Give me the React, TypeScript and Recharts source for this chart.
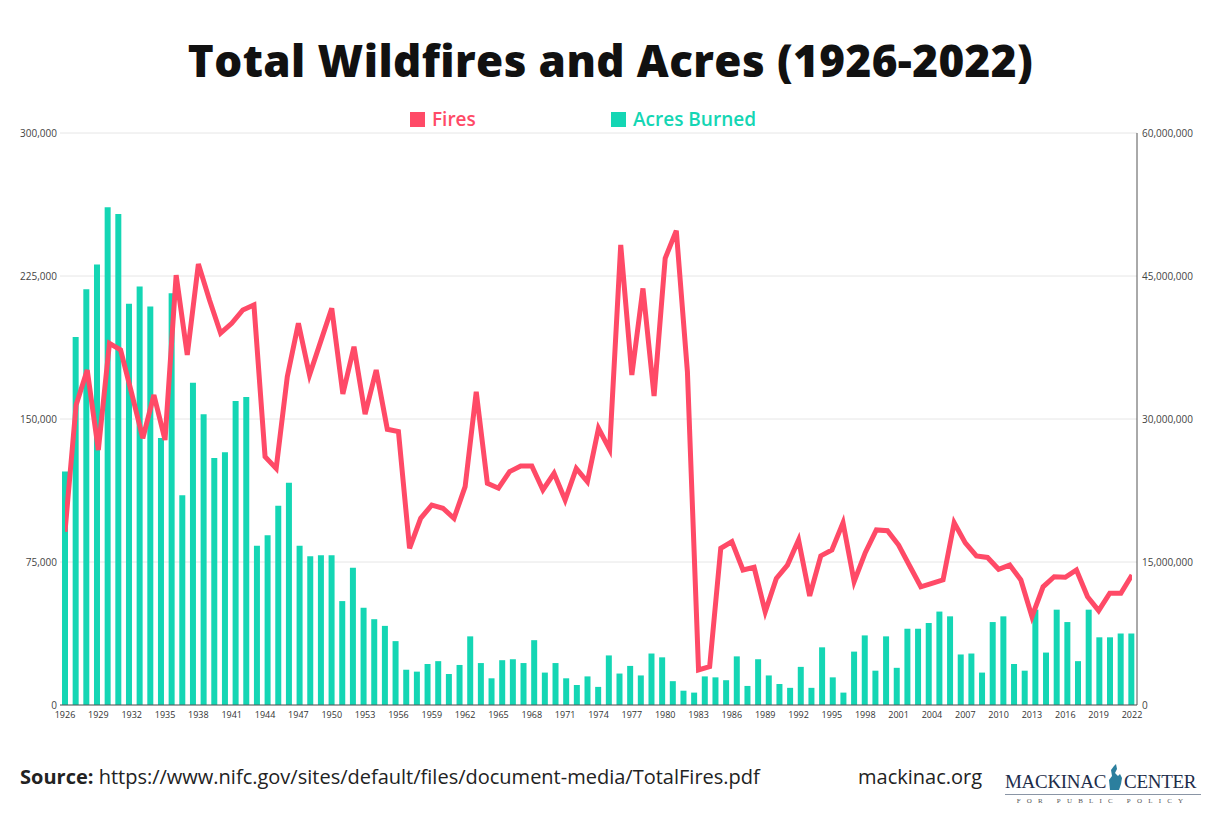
import React from "react";
import { ComposedChart, Bar, Line, XAxis, YAxis, CartesianGrid } from "recharts";

// fires per year (line)
const fireYears = [
  1926, 1927, 1928, 1929, 1930, 1931, 1932, 1933, 1934, 1935, 1936, 1937, 1938,
  1939, 1940, 1941, 1942, 1943, 1944, 1945, 1946, 1947, 1948, 1949, 1950, 1951,
  1952, 1953, 1954, 1955, 1956, 1957, 1958, 1959, 1960, 1961, 1962, 1963, 1964,
  1965, 1966, 1967, 1968, 1969, 1970, 1971, 1972, 1973, 1974, 1975, 1976, 1977,
  1978, 1979, 1980, 1981, 1982, 1983, 1984, 1985, 1986, 1987, 1988, 1989, 1990,
  1991, 1992, 1993, 1994, 1995, 1996, 1997, 1998, 1999, 2000, 2001, 2002, 2003,
  2004, 2005, 2006, 2007, 2008, 2009, 2010, 2011, 2012, 2013, 2014, 2015, 2016,
  2017, 2018, 2019, 2020, 2021, 2022,
];

const fires = [
  90900, 157400, 175700, 133700, 189700, 186200, 163500, 139900, 162600, 139000,
  225500, 183600, 231300, 212400, 195000, 200200, 207200, 209800, 130200, 124100,
  172200, 200200, 173100, 190600, 208100, 163100, 187900, 152600, 175700, 144600,
  143400, 82200, 97900, 104900, 103200, 97900, 114500, 164300, 116300, 113700,
  122400, 125400, 125400, 112800, 121500, 107500, 124100, 117100, 145100, 134100,
  241300, 173100, 218500, 162100, 234300, 248800, 174800, 18400, 20100, 82200,
  85700, 70800, 72200, 48900, 66400, 73400, 86500, 57200, 78200, 81300,
  95600, 64700, 79900, 91800, 91400, 83900, 72900, 62000, 63800, 65600,
  95600, 85000, 78200, 77400, 71200, 73400, 65600, 46300, 62000, 67300,
  67000, 70800, 56800, 49500, 58600, 58600, 68200,
];

// acres burned, bar by bar as drawn in the source (it has 101 bars)
const acresBurned = [
  24500000, 38600000, 43600000, 46200000, 52200000, 51500000, 42100000, 43900000,
  41800000, 28000000, 43200000, 22000000, 33800000, 30500000, 25900000, 26500000,
  31900000, 32300000, 16700000, 17800000, 20900000, 23300000, 16700000, 15600000,
  15700000, 15700000, 10900000, 14400000, 10200000, 9000000, 8300000, 6700000,
  3700000, 3500000, 4300000, 4600000, 3250000, 4200000, 7200000, 4400000,
  2800000, 4700000, 4800000, 4400000, 6800000, 3400000, 4400000, 2800000,
  2100000, 3000000, 1900000, 5200000, 3300000, 4100000, 3100000, 5400000,
  5000000, 2500000, 1500000, 1300000, 3000000, 2900000, 2600000, 5100000,
  2000000, 4800000, 3100000, 2200000, 1800000, 4000000, 1800000, 6050000,
  2900000, 1300000, 5600000, 7300000, 3600000, 7200000, 3900000, 8000000,
  8000000, 8600000, 9800000, 9300000, 5300000, 5400000, 3400000, 8700000,
  9300000, 4300000, 3600000, 10000000, 5500000, 10000000, 8700000, 4600000,
  10000000, 7100000, 7100000, 7500000, 7500000,
];

const yearTicks = [
  1926, 1929, 1932, 1935, 1938, 1941, 1944, 1947, 1950, 1953, 1956, 1959, 1962,
  1965, 1968, 1971, 1974, 1977, 1980, 1983, 1986, 1989, 1992, 1995, 1998, 2001,
  2004, 2007, 2010, 2013, 2016, 2019, 2022,
];
const fireTicks = [0, 75000, 150000, 225000, 300000];
const acreTicks = [0, 15000000, 30000000, 45000000, 60000000];

const fireData = fireYears.map((year, i) => ({ year, fires: fires[i] }));
const acreData = acresBurned.map((acres, i) => ({ slot: i, acres }));

const RED = "#ff4a67";
const TEAL = "#14d6b4";
const FONT = "'Open Sans', Arial, sans-serif";

const fmt = (v: number) => v.toLocaleString("en-US");

const App: React.FC = () => {
  return (
    <div
      style={{
        position: "absolute",
        left: 0,
        top: 0,
        width: 1227,
        height: 829,
        background: "#fff",
        overflow: "hidden",
        fontFamily: FONT,
      }}
    >
      <div
        style={{
          position: "absolute",
          left: 0,
          width: 1227,
          top: 30,
          textAlign: "center",
          fontSize: 44,
          fontWeight: 800,
          color: "#111",
          letterSpacing: 0.4,
          paddingRight: 6,
          boxSizing: "border-box",
        }}
      >
        Total Wildfires and Acres (1926-2022)
      </div>

      {/* legend */}
      <div
        style={{
          position: "absolute",
          top: 106,
          left: 410,
          display: "flex",
          fontSize: 19,
          fontWeight: 600,
        }}
      >
        <div style={{ display: "flex", alignItems: "center", color: RED, width: 201 }}>
          <span style={{ width: 15, height: 15, background: RED, marginRight: 7 }} />
          Fires
        </div>
        <div style={{ display: "flex", alignItems: "center", color: TEAL }}>
          <span style={{ width: 15, height: 15, background: TEAL, marginRight: 7 }} />
          Acres Burned
        </div>
      </div>

      <div style={{ position: "absolute", left: 0, top: 0 }}>
        <ComposedChart
          width={1227}
          height={740}
          data={acreData}
          margin={{ top: 133, right: 10, bottom: 5, left: 0 }}
        >
          <CartesianGrid
            xAxisId="years"
            yAxisId="fires"
            vertical={false}
            stroke="#e6e6e6"
          />
          <XAxis
            xAxisId="slots"
            dataKey="slot"
            type="category"
            orientation="top"
            height={0}
            hide
          />
          <XAxis
            xAxisId="years"
            dataKey="year"
            type="number"
            domain={[1926, 2022]}
            ticks={yearTicks}
            interval={0}
            padding={{ left: 5, right: 5 }}
            allowDataOverflow
            axisLine={{ stroke: "#555" }}
            tickLine={false}
            tickSize={0}
            tickMargin={7}
            tick={{ fontSize: 9, fill: "#333", fontFamily: FONT }}
          />
          <YAxis
            yAxisId="fires"
            domain={[0, 300000]}
            ticks={fireTicks}
            width={60}
            axisLine={false}
            tickLine={false}
            tickSize={0}
            tickMargin={3}
            tickFormatter={fmt}
            tick={{ fontSize: 10, fill: "#444", fontFamily: FONT }}
          />
          <YAxis
            yAxisId="acres"
            orientation="right"
            domain={[0, 60000000]}
            ticks={acreTicks}
            width={80}
            axisLine={{ stroke: "#555" }}
            tickLine={false}
            tickSize={0}
            tickMargin={5}
            tickFormatter={fmt}
            tick={{ fontSize: 10, fill: "#444", fontFamily: FONT }}
          />
          <Bar
            xAxisId="slots"
            yAxisId="acres"
            dataKey="acres"
            fill={TEAL}
            barSize={6}
            isAnimationActive={false}
          />
          <Line
            xAxisId="years"
            yAxisId="fires"
            data={fireData}
            dataKey="fires"
            type="linear"
            stroke={RED}
            strokeWidth={5}
            dot={false}
            activeDot={false}
            isAnimationActive={false}
          />
        </ComposedChart>
      </div>

      {/* footer */}
      <div
        style={{
          position: "absolute",
          left: 20,
          top: 763,
          fontSize: 20,
          color: "#222",
        }}
      >
        <b>Source:</b> https://www.nifc.gov/sites/default/files/document-media/TotalFires.pdf
      </div>
      <div
        style={{
          position: "absolute",
          left: 858,
          top: 763,
          fontSize: 20,
          color: "#222",
        }}
      >
        mackinac.org
      </div>
      <div style={{ position: "absolute", left: 1005, top: 764, width: 196 }}>
        <div
          style={{
            display: "flex",
            alignItems: "flex-end",
            fontFamily: "'Liberation Serif', 'DejaVu Serif', serif",
            fontSize: 19,
            color: "#1d2d4a",
            lineHeight: "20px",
            letterSpacing: -0.3,
          }}
        >
          <span>MACKINAC</span>
          <svg width="18" height="26" viewBox="0 0 18 26" style={{ marginBottom: 2 }}>
            <path
              d="M4 26 L3 16 L6 12 L5 6 L8 2 L10 0 L11 5 L9 9 L12 12 L14 10 L16 14 L15 20 L13 26 Z"
              fill="#2b7f9e"
            />
          </svg>
          <span>CENTER</span>
        </div>
        <div style={{ borderTop: "1px solid #8a95a5", marginTop: 2 }} />
        <div
          style={{
            fontFamily: "'Liberation Serif', serif",
            fontSize: 7,
            letterSpacing: 6.2,
            color: "#555",
            textAlign: "center",
            marginTop: 2,
          }}
        >
          FOR PUBLIC POLICY
        </div>
      </div>
    </div>
  );
};

export default App;
